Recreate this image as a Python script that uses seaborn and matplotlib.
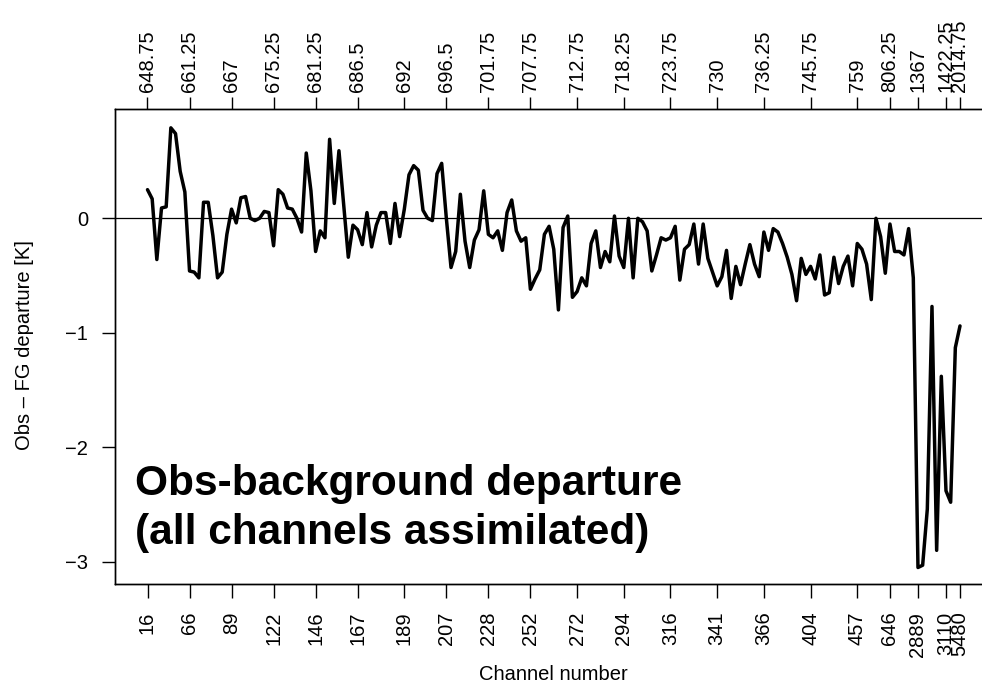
import numpy as np
import pandas as pd
import matplotlib
matplotlib.use("Agg")
import matplotlib.pyplot as plt
import seaborn as sns

# Obs - FG departure [K] for each assimilated channel (in plotting order)
departure = [
    0.25, 0.17, -0.36, 0.09, 0.10, 0.79, 0.74, 0.41, 0.23, -0.46,
    -0.47, -0.52, 0.14, 0.14, -0.15, -0.52, -0.47, -0.14, 0.08, -0.04,
    0.18, 0.19, 0.00, -0.02, 0.00, 0.06, 0.05, -0.24, 0.25, 0.21,
    0.09, 0.08, 0.00, -0.12, 0.57, 0.24, -0.29, -0.11, -0.17, 0.69,
    0.13, 0.59, 0.12, -0.34, -0.06, -0.10, -0.23, 0.05, -0.25, -0.06,
    0.05, 0.05, -0.22, 0.13, -0.16, 0.08, 0.38, 0.46, 0.42, 0.07,
    0.00, -0.02, 0.39, 0.48, 0.00, -0.43, -0.29, 0.21, -0.20, -0.43,
    -0.19, -0.10, 0.24, -0.14, -0.17, -0.11, -0.28, 0.05, 0.16, -0.11,
    -0.20, -0.17, -0.62, -0.53, -0.45, -0.14, -0.07, -0.27, -0.80, -0.08,
    0.02, -0.69, -0.64, -0.52, -0.59, -0.22, -0.11, -0.43, -0.29, -0.38,
    0.02, -0.33, -0.43, 0.00, -0.52, 0.00, -0.03, -0.11, -0.46, -0.32,
    -0.17, -0.19, -0.17, -0.07, -0.54, -0.27, -0.23, -0.05, -0.40, -0.05,
    -0.35, -0.47, -0.59, -0.51, -0.28, -0.70, -0.42, -0.58, -0.40, -0.23,
    -0.40, -0.51, -0.12, -0.28, -0.09, -0.12, -0.22, -0.34, -0.49, -0.72,
    -0.35, -0.49, -0.42, -0.53, -0.32, -0.67, -0.65, -0.34, -0.57, -0.42,
    -0.33, -0.59, -0.22, -0.27, -0.40, -0.71, 0.00, -0.16, -0.48, -0.05,
    -0.29, -0.29, -0.32, -0.09, -0.52, -3.05, -3.03, -2.54, -0.77, -2.90,
    -1.38, -2.38, -2.48, -1.13, -0.94,
]

# labelled channels: position in the channel list, channel number, wavenumber
tick_index = [0, 9, 18, 27, 36, 45, 55, 64, 73, 82, 92, 102, 112, 122, 132,
              142, 152, 159, 165, 171, 174]
channel_labels = ["16", "66", "89", "122", "146", "167", "189", "207", "228",
                  "252", "272", "294", "316", "341", "366", "404", "457",
                  "646", "2889", "3110", "5480"]
wavenumber_labels = ["648.75", "661.25", "667", "675.25", "681.25", "686.5",
                     "692", "696.5", "701.75", "707.75", "712.75", "718.25",
                     "723.75", "730", "736.25", "745.75", "759", "806.25",
                     "1367", "1422.25", "2014.75"]
y_ticks = [0, -1, -2, -3]

df = pd.DataFrame({"position": np.arange(len(departure)),
                   "departure": departure})

sns.set_style("ticks")
plt.rcParams["font.family"] = ["Liberation Sans", "DejaVu Sans"]
plt.rcParams["axes.unicode_minus"] = True
plt.rcParams["text.color"] = "black"
plt.rcParams["xtick.color"] = "black"
plt.rcParams["ytick.color"] = "black"
plt.rcParams["xtick.labelcolor"] = "black"
plt.rcParams["ytick.labelcolor"] = "black"
plt.rcParams["axes.edgecolor"] = "black"

W, H = 982, 685
fig = plt.figure(figsize=(W / 100, H / 100), dpi=100)
left, right, top, bottom = 115, 992.5, 109.3, 584
ax = fig.add_axes([left / W, (H - bottom) / H, (right - left) / W, (bottom - top) / H])

ax.axhline(0, color="black", lw=0.9, zorder=1)
sns.lineplot(data=df, x="position", y="departure", ax=ax, color="black",
             linewidth=2.5, zorder=3)

n = len(departure)
ext = 0.04 * (n - 1)
ax.set_xlim(-ext, n - 1 + ext)
ax.set_ylim(-3.194, 0.952)

fs = 14.5
ax.set_xticks(tick_index)
ax.set_xticklabels(channel_labels, rotation=90, fontsize=fs)
ax.set_yticks(y_ticks)
ax.set_yticklabels([f"{v:d}" if v == 0 else "\u2212" + str(abs(v)) for v in y_ticks],
                   fontsize=fs)
ax.tick_params(axis="x", length=10.3, width=1.0, pad=9.6, color="black")
ax.tick_params(axis="y", length=9.6, width=1.0, pad=9.9, color="black")
ax.set_xlabel("")
ax.set_ylabel("")
for s in ["left", "bottom", "top"]:
    ax.spines[s].set_color("black")
    ax.spines[s].set_linewidth(1.0)
ax.spines["right"].set_visible(False)

ax2 = ax.twiny()
ax2.set_xlim(ax.get_xlim())
ax2.set_xticks(tick_index)
ax2.set_xticklabels(wavenumber_labels, rotation=90, fontsize=fs)
ax2.tick_params(axis="x", length=9.0, width=1.0, pad=3.8, color="black")
ax2.spines["right"].set_visible(False)
for s in ["left", "bottom", "top"]:
    ax2.spines[s].set_color("black")
    ax2.spines[s].set_linewidth(1.0)

fig.text(25 / W, 1 - 345 / H, "Obs \u2013 FG departure [K]", rotation=90,
         ha="center", va="center", fontsize=fs)
fig.text(553.5 / W, 1 - 680.5 / H, "Channel number", ha="center",
         va="baseline", fontsize=fs)

fig.text(135 / W, 1 - 495 / H, "Obs-background departure", fontsize=30.5,
         fontweight="bold", va="baseline", ha="left", color="black")
fig.text(135 / W, 1 - 544 / H, "(all channels assimilated)", fontsize=30.5,
         fontweight="bold", va="baseline", ha="left", color="black")

fig.savefig("out.png", dpi=100)
